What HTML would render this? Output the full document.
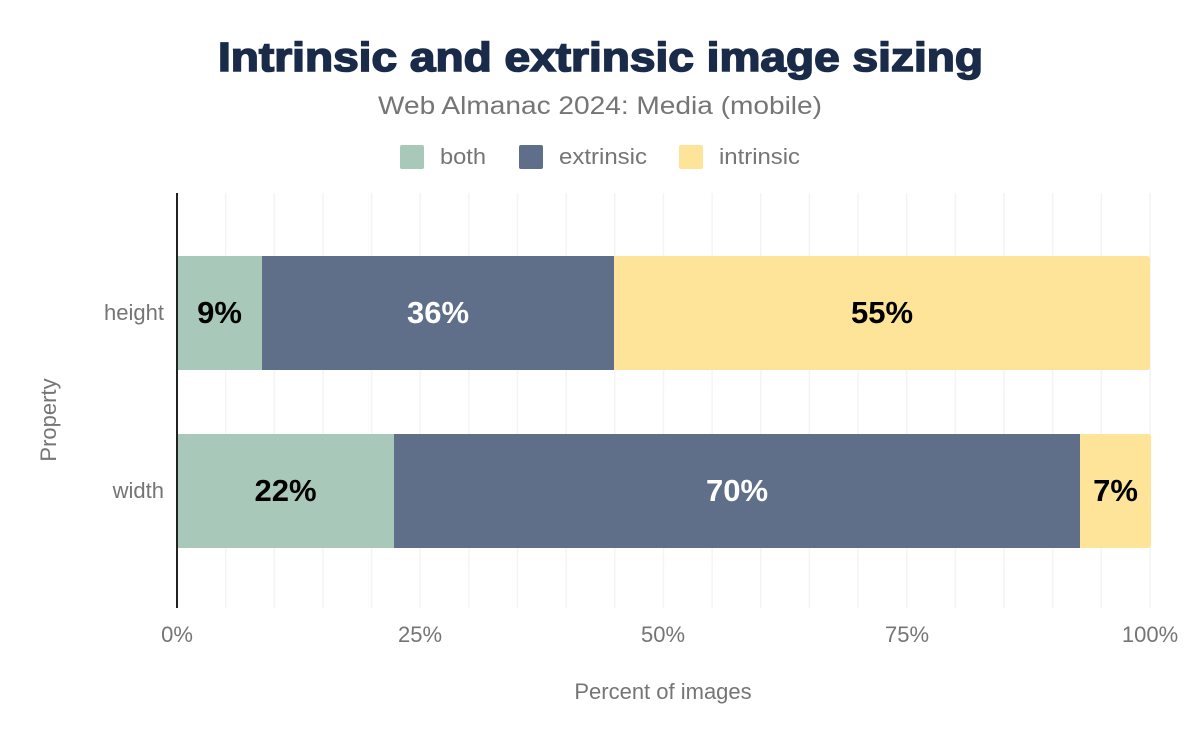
<!DOCTYPE html>
<html><head><meta charset="utf-8"><style>
html,body{margin:0;padding:0;background:#fff;}
svg{display:block;font-family:"Liberation Sans",Arial,sans-serif;}
</style></head><body>
<svg width="1200" height="742" viewBox="0 0 1200 742" xmlns="http://www.w3.org/2000/svg">
<rect width="1200" height="742" fill="#fff"/>
<text x="218" y="71" font-size="41" font-weight="900" fill="#1a2b49" stroke="#1a2b49" stroke-width="1.6" textLength="765" lengthAdjust="spacingAndGlyphs">Intrinsic and extrinsic image sizing</text>
<text x="378" y="114" font-size="25" fill="#757575" textLength="444" lengthAdjust="spacingAndGlyphs">Web Almanac 2024: Media (mobile)</text>
<rect x="400" y="145" width="24" height="24" rx="2" fill="#a8c9b9"/>
<text x="440" y="164" font-size="22" fill="#757575" textLength="46" lengthAdjust="spacingAndGlyphs">both</text>
<rect x="519" y="145" width="24" height="24" rx="2" fill="#5f6f8a"/>
<text x="559" y="164" font-size="22" fill="#757575" textLength="88" lengthAdjust="spacingAndGlyphs">extrinsic</text>
<rect x="679" y="145" width="24" height="24" rx="2" fill="#fde498"/>
<text x="719" y="164" font-size="22" fill="#757575" textLength="81" lengthAdjust="spacingAndGlyphs">intrinsic</text>
<g stroke="#f4f4f4" stroke-width="1.5">
<line x1="225.6" y1="193" x2="225.6" y2="608"/><line x1="274.3" y1="193" x2="274.3" y2="608"/>
<line x1="322.9" y1="193" x2="322.9" y2="608"/><line x1="371.6" y1="193" x2="371.6" y2="608"/>
<line x1="420.2" y1="193" x2="420.2" y2="608"/><line x1="468.9" y1="193" x2="468.9" y2="608"/>
<line x1="517.5" y1="193" x2="517.5" y2="608"/><line x1="566.2" y1="193" x2="566.2" y2="608"/>
<line x1="614.8" y1="193" x2="614.8" y2="608"/><line x1="663.5" y1="193" x2="663.5" y2="608"/>
<line x1="712.1" y1="193" x2="712.1" y2="608"/><line x1="760.8" y1="193" x2="760.8" y2="608"/>
<line x1="809.4" y1="193" x2="809.4" y2="608"/><line x1="858.1" y1="193" x2="858.1" y2="608"/>
<line x1="906.7" y1="193" x2="906.7" y2="608"/><line x1="955.4" y1="193" x2="955.4" y2="608"/>
<line x1="1004" y1="193" x2="1004" y2="608"/><line x1="1052.7" y1="193" x2="1052.7" y2="608"/>
<line x1="1101.3" y1="193" x2="1101.3" y2="608"/><line x1="1150" y1="193" x2="1150" y2="608"/>
</g>
<rect x="177" y="256" width="85" height="114" fill="#a8c9b9"/>
<rect x="262" y="256" width="352" height="114" fill="#5f6f8a"/>
<path d="M614 256 H1147 Q1150 256 1150 259 V367 Q1150 370 1147 370 H614 Z" fill="#fde498"/>
<rect x="177" y="434" width="217" height="114" fill="#a8c9b9"/>
<rect x="394" y="434" width="686" height="114" fill="#5f6f8a"/>
<path d="M1080 434 H1148 Q1151 434 1151 437 V545 Q1151 548 1148 548 H1080 Z" fill="#fde498"/>
<line x1="177" y1="193" x2="177" y2="608" stroke="#222" stroke-width="2"/>
<g font-size="31" font-weight="bold" text-anchor="middle">
<text x="219.5" y="323" fill="#000">9%</text>
<text x="438" y="323" fill="#fff">36%</text>
<text x="882" y="323" fill="#000">55%</text>
<text x="285.5" y="501" fill="#000">22%</text>
<text x="737" y="501" fill="#fff">70%</text>
<text x="1115.5" y="501" fill="#000">7%</text>
</g>
<g font-size="22" fill="#757575">
<text x="164" y="320" text-anchor="end">height</text>
<text x="164" y="498" text-anchor="end">width</text>
<text x="177" y="642" text-anchor="middle">0%</text>
<text x="420" y="642" text-anchor="middle">25%</text>
<text x="663" y="642" text-anchor="middle">50%</text>
<text x="907" y="642" text-anchor="middle">75%</text>
<text x="1150" y="642" text-anchor="middle">100%</text>
<text x="663" y="699" text-anchor="middle">Percent of images</text>
<text x="56" y="420" text-anchor="middle" transform="rotate(-90 56 420)">Property</text>
</g>
</svg>
</body></html>
